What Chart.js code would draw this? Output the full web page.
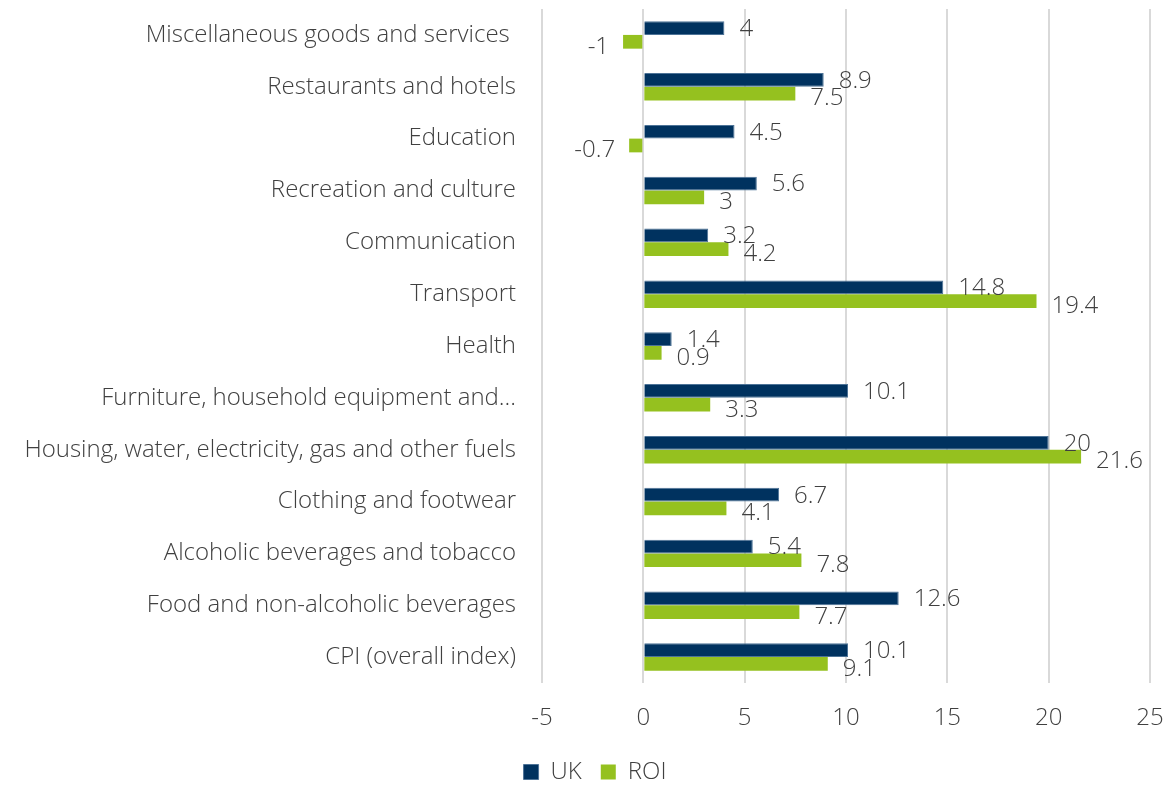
<!DOCTYPE html>
<html>
<head>
<meta charset="utf-8">
<script src="https://cdn.jsdelivr.net/npm/chart.js@4/dist/chart.umd.min.js"></script>
<style>
  html, body { margin: 0; padding: 0; background: #fff; }
  #wrap { width: 1167px; height: 785px; }
</style>
</head>
<body>
<div id="wrap"><canvas id="cpiChart"></canvas></div>
<script>
const categories = [
    'Miscellaneous goods and services ',
    'Restaurants and hotels',
    'Education',
    'Recreation and culture',
    'Communication',
    'Transport',
    'Health',
    'Furniture, household equipment and...',
    'Housing, water, electricity, gas and other fuels',
    'Clothing and footwear',
    'Alcoholic beverages and tobacco',
    'Food and non-alcoholic beverages',
    'CPI (overall index)'
];
const ukValues  = [4, 8.9, 4.5, 5.6, 3.2, 14.8, 1.4, 10.1, 20, 6.7, 5.4, 12.6, 10.1];
const roiValues = [-1, 7.5, -0.7, 3, 4.2, 19.4, 0.9, 3.3, 21.6, 4.1, 7.8, 7.7, 9.1];
const xTicks = [-5, 0, 5, 10, 15, 20, 25];

const textColor = '#404040';
const fontFamily = "'Open Sans', 'Segoe UI', sans-serif";
const baseFont = { family: fontFamily, size: 24, weight: '300' };

// value labels at the outer end of each bar
const barLabels = {
    id: 'barLabels',
    afterDatasetsDraw(chart) {
        const ctx = chart.ctx;
        ctx.save();
        ctx.font = '300 24px ' + fontFamily;
        ctx.fillStyle = textColor;
        ctx.textBaseline = 'middle';
        chart.data.datasets.forEach((ds, di) => {
            const meta = chart.getDatasetMeta(di);
            const dy = di === 0 ? 1 : 5;
            meta.data.forEach((bar, i) => {
                const v = ds.data[i];
                if (v < 0) {
                    ctx.textAlign = 'right';
                    ctx.fillText(String(v), bar.x - 14, bar.y + dy);
                } else {
                    ctx.textAlign = 'left';
                    ctx.fillText(String(v), bar.x + 15, bar.y + dy);
                }
            });
        });
        ctx.restore();
    }
};

// legend sits a little right of the canvas centre, under the plot
const legendShift = {
    id: 'legendShift',
    afterLayout(chart) {
        if (chart.legend) {
            chart.legend.left += 20;
            chart.legend.right += 20;
        }
    }
};

new Chart(document.getElementById('cpiChart').getContext('2d'), {
    type: 'bar',
    data: {
        labels: categories,
        datasets: [
            {
                label: 'UK',
                data: ukValues,
                backgroundColor: '#00325F',
                borderColor: '#4d7397',
                borderWidth: 1,
                barPercentage: 1,
                categoryPercentage: 0.53
            },
            {
                label: 'ROI',
                data: roiValues,
                backgroundColor: '#95C11F',
                borderWidth: 0,
                barPercentage: 1,
                categoryPercentage: 0.53
            }
        ]
    },
    options: {
        indexAxis: 'y',
        responsive: true,
        maintainAspectRatio: false,
        animation: false,
        layout: {
            padding: { top: 9, right: 17, bottom: -9, left: 0 }
        },
        scales: {
            x: {
                min: -5,
                max: 25,
                afterBuildTicks(axis) {
                    axis.ticks = xTicks.map(v => ({ value: v }));
                },
                grid: { color: '#d9d9d9', lineWidth: 2, drawTicks: false },
                border: { display: false },
                ticks: {
                    color: textColor,
                    font: baseFont,
                    padding: 21
                },
                afterFit(axis) {
                    axis.height = 58;
                    axis.paddingLeft = 0;
                    axis.paddingRight = 0;
                }
            },
            y: {
                grid: { display: false },
                border: { display: false },
                ticks: {
                    color: textColor,
                    font: baseFont,
                    padding: 18,
                    autoSkip: false
                },
                afterFit(axis) {
                    axis.width = 542;
                    axis.paddingTop = 0;
                    axis.paddingBottom = 0;
                }
            }
        },
        plugins: {
            legend: {
                position: 'bottom',
                labels: {
                    color: textColor,
                    font: baseFont,
                    boxWidth: 15,
                    boxHeight: 15,
                    padding: 19
                }
            },
            tooltip: { enabled: false }
        }
    },
    plugins: [barLabels, legendShift]
});
</script>
</body>
</html>
